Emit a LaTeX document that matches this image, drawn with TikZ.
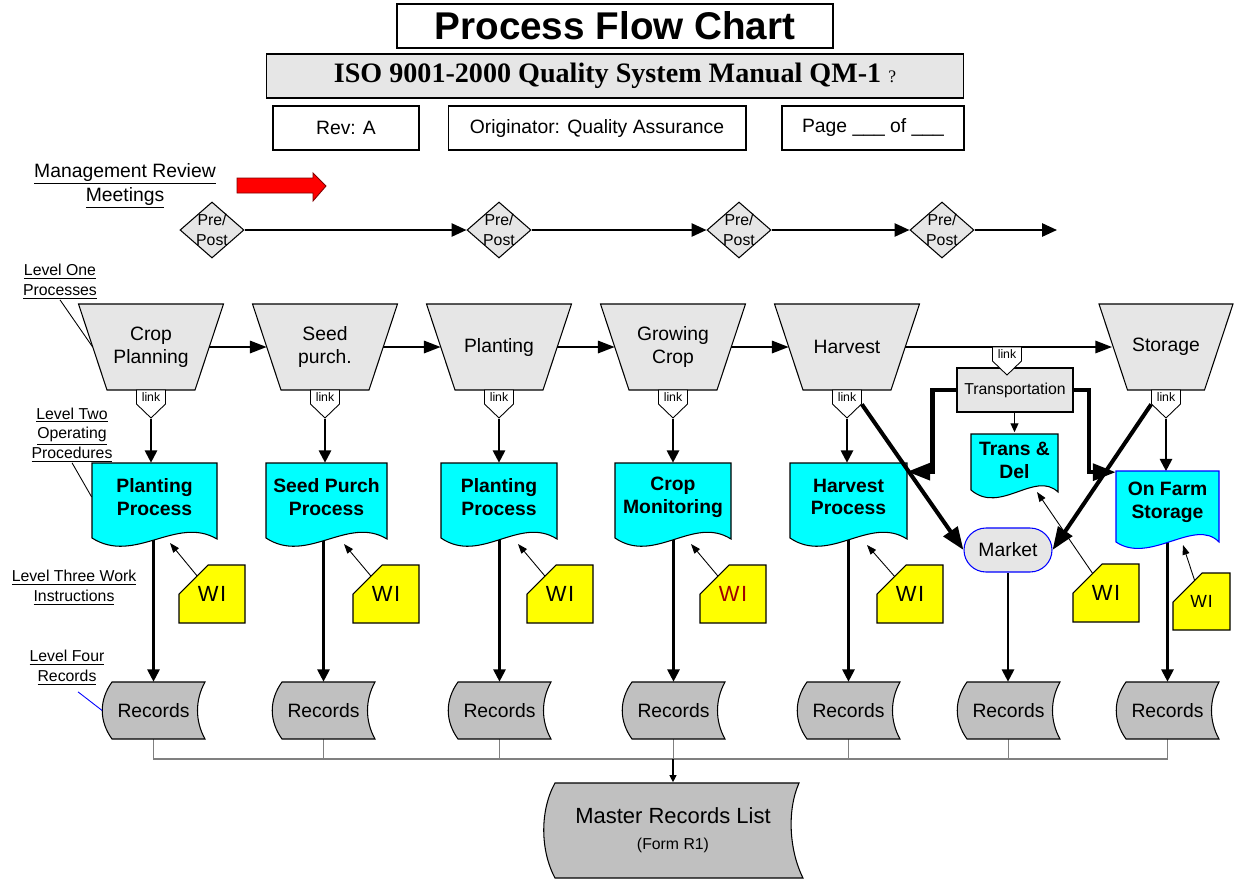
\documentclass[tikz,border=0pt]{standalone}
\usepackage{fontspec}
\setmainfont{Liberation Sans}
\newfontfamily\isofont{Liberation Serif}
\usetikzlibrary{arrows.meta,shapes.geometric,calc}
\pgfdeclarelayer{background}
\pgfsetlayers{background,main}
\definecolor{boxgray}{HTML}{E6E6E6}
\definecolor{recgray}{HTML}{C0C0C0}
\definecolor{wired}{HTML}{A00000}
\definecolor{doccyan}{RGB}{0,255,255}
\definecolor{wiyellow}{RGB}{255,255,0}
\definecolor{mrred}{RGB}{255,0,0}
\begin{document}
\begin{tikzpicture}[x=0.02cm, y=-0.02cm,
        every node/.style={inner sep=0pt},
        txt/.style={font=\fontsize{11}{13}\selectfont, align=center},
        small/.style={font=\fontsize{9}{11.3}\selectfont, align=center},
        doctxt/.style={font=\fontsize{11}{13}\selectfont\bfseries, align=center},
        headbox/.style={draw, line width=0.6pt, minimum height=0.88cm, font=\fontsize{11}{13}\selectfont},
        flow/.style={line width=1.2pt, -{Triangle[length=7pt,width=7pt]}},
        stepflow/.style={line width=1.2pt, -{Triangle[length=9.5pt,width=7pt]}},
        mrflow/.style={line width=1.2pt, -{Triangle[length=8.5pt,width=7.5pt]}},
        bigflow/.style={line width=2.3pt, -{Triangle[length=13pt,width=9.5pt]}},
        wiflow/.style={line width=0.5pt, -{Triangle[length=5.5pt,width=4pt]}},
        linkbox/.style={font=\fontsize{7}{8}\selectfont, minimum width=0.58cm, text height=6.6pt, text depth=9.3pt, anchor=north}]
    \useasboundingbox (0,0) rectangle (1235,880);

    % heading
    \node[draw, line width=0.8pt, minimum width=8.72cm, minimum height=0.88cm, font=\fontsize{22}{26}\selectfont\bfseries] (title) at (615,26) {Process Flow Chart};
    \node[draw, line width=0.6pt, fill=boxgray, minimum width=13.96cm, minimum height=0.88cm] (manual) at (615,76)
        {\isofont\fontsize{16}{19}\selectfont\bfseries ISO 9001-2000 Quality System Manual QM-1 {\mdseries\fontsize{10}{12}\selectfont ?}};
    \node[headbox, minimum width=2.92cm] (revbox) at (346,128) {Rev: A};
    \node[headbox, minimum width=5.96cm] (origbox) at (597,128) {Originator: Quality Assurance};
    \node[headbox, minimum width=3.64cm] (pagebox) at (873,128) {Page \_\_\_ of \_\_\_};

    % level labels
    \node[txt, font=\fontsize{11}{13.6}\selectfont] (mgmt) at (125,186) {\underline{Management Review}\\\underline{Meetings}};
    \node[small] (lvl1) at (60,282) {\underline{Level One}\\\underline{Processes}};
    \node[small] (lvl2) at (72,435) {\underline{Level Two}\\\underline{Operating}\\\underline{Procedures}};
    \node[small] (lvl3) at (74,588) {\underline{Level Three Work}\\\underline{Instructions}};
    \node[small] (lvl4) at (67,668) {\underline{Level Four}\\\underline{Records}};

    \filldraw[fill=mrred, draw=red!50!black, line width=0.5pt] (237,178) -- (313,178) -- (313,173) -- (326,186) -- (313,201) -- (313,193) -- (237,193) -- cycle;

    % management review
    \foreach \x [count=\i] in {212,499,739,942}
        \node[diamond, draw, line width=0.6pt, fill=boxgray, minimum width=1.28cm, minimum height=1.12cm, inner sep=-5pt, small] (mr\i) at (\x,230) {Pre/\\Post};
    \coordinate (mrend) at (1057,230);
    \draw[mrflow] (mr1) -- (mr2);
    \draw[mrflow] (mr2) -- (mr3);
    \draw[mrflow] (mr3) -- (mr4);
    \draw[mrflow] (mr4) -- (mrend);

    % level one processes
    \foreach \x/\w/\n/\t in {151/72.5/plan/{Crop\\Planning}, 325/72.5/seed/{Seed\\purch.}, 499/72.5/plant/Planting, 673/72.5/grow/{Growing\\Crop}, 847/72.5/harv/Harvest, 1166/67/stor/Storage} {
        \filldraw[fill=boxgray, line width=0.6pt] (\x-\w,304) -- (\x+\w,304) -- (\x+\w-28.5,390) -- (\x-\w+28.5,390) -- cycle;
        \node[txt, minimum width=\w*0.032cm, minimum height=1.72cm] (\n) at (\x,347) {\t};
        \filldraw[fill=white, line width=0.5pt] (\x-14.5,390) -- (\x+14.5,390) -- (\x+14.5,404) -- (\x,418) -- (\x-14.5,404) -- cycle;
        \node[linkbox] (lk\n) at (\x,390) {link};
    }
    \draw[stepflow] (plan) -- (seed);
    \draw[stepflow] (seed) -- (plant);
    \draw[stepflow] (plant) -- (grow);
    \draw[stepflow] (grow) -- (harv);
    \draw[stepflow] (harv) -- (stor);

    % level two procedures
    \foreach \x/\h/\n/\t in {154.5/62.5/ppro/{Planting\\Process}, 326.5/60.5/spro/{Seed Purch\\Process}, 499/58/ppro2/{Planting\\Process}, 673/58/cmon/{Crop\\Monitoring}, 848.5/58.5/hpro/{Harvest\\Process}} {
        \filldraw[fill=doccyan, line width=0.6pt] (\x-\h,463) -- (\x+\h,463) -- (\x+\h,539) .. controls (\x+0.35*\h,515) and (\x-0.32*\h,565) .. (\x-\h,538) -- cycle;
        \node[doctxt, minimum width=\h*0.04cm, minimum height=1.36cm] (\n) at (\x,497) {\t};
    }
    \filldraw[fill=doccyan, draw=blue, line width=0.6pt] (1116,471) -- (1219,471) -- (1219,542) .. controls (1195,517) and (1150,565) .. (1116,542) -- cycle;
    \node[doctxt, minimum width=2.06cm, minimum height=1.22cm] (ofs) at (1167.5,502) {On Farm\\Storage};

    % transportation
    \node[draw, line width=0.6pt, fill=boxgray, minimum width=2.32cm, minimum height=0.88cm, small] (trans) at (1015,390) {Transportation};
    \filldraw[fill=white, line width=0.5pt] (992.5,347) -- (1021.5,347) -- (1021.5,361) -- (1007,375) -- (992.5,361) -- cycle;
    \node[linkbox] (lktrans) at (1007,347) {link};
    \filldraw[fill=doccyan, line width=0.6pt] (971,434) -- (1058,434) -- (1058,492) .. controls (1035,470) and (1000,515) .. (971,490) -- cycle;
    \node[doctxt, minimum width=1.74cm, minimum height=1.1cm] (tdel) at (1014.5,460) {Trans \&\\Del};
    \draw[line width=0.6pt, -{Triangle[length=5pt,width=4.5pt]}] (trans.south -| tdel.north) -- (tdel.north);
    \node[txt, draw=blue, line width=0.6pt, fill=boxgray, minimum width=1.76cm, minimum height=0.88cm, rounded corners=0.44cm] (market) at (1008,550) {Market};

    % level three work instructions
    \foreach \x/\y/\n/\c in {179/565/wi1/black, 353/565/wi2/black, 527/565/wi3/black, 700/565/wi4/wired, 877/565/wi5/black, 1073/564/wi6/black} {
        \filldraw[fill=wiyellow, line width=0.6pt] (\x+29,\y) -- (\x+66,\y) -- (\x+66,\y+58) -- (\x,\y+58) -- (\x,\y+29) -- cycle;
        \node[font=\fontsize{12.5}{14}\selectfont, text=\c, minimum width=1.32cm, minimum height=1.16cm] (\n) at (\x+33,\y+29) {W\kern0.8pt I};
    }
    \filldraw[fill=wiyellow, line width=0.6pt] (1202,573) -- (1230,573) -- (1230,630) -- (1173,630) -- (1173,602) -- cycle;
    \node[font=\fontsize{10}{12}\selectfont, minimum width=1.14cm, minimum height=1.14cm] (wi7) at (1201.5,601.5) {W\kern0.6pt I};
    \coordinate (tipwi1) at (170,543);
    \coordinate (tipwi2) at (344,544);
    \coordinate (tipwi3) at (518,544);
    \coordinate (tipwi4) at (691,544);
    \coordinate (tipwi5) at (867,545);
    \coordinate (tipwi6) at (1037,492);
    \coordinate (tipwi7) at (1183,545);

    % level four records
    \foreach \x/\n in {153/rec1, 323/rec2, 499/rec3, 673/rec4, 848/rec5, 1008/rec6, 1167/rec7} {
        \filldraw[fill=recgray, line width=0.6pt] (\x-41,682) -- (\x+52,682) .. controls (\x+42,700) and (\x+42,721) .. (\x+52,739) -- (\x-41,739) .. controls (\x-54,721) and (\x-54,700) .. (\x-41,682) -- cycle;
        \node[txt, minimum width=2.04cm, minimum height=1.14cm] (\n) at (\x+0.5,710.5) {Records};
    }
    \filldraw[fill=recgray, line width=0.6pt] (555,783) -- (799,783) .. controls (787,810) and (789,850) .. (803,878) -- (555,878) .. controls (540,850) and (540,810) .. (555,783) -- cycle;
    \node[font=\fontsize{12.5}{14}\selectfont, align=center, minimum width=5cm, minimum height=1.9cm] (mrl) at (673,830)
        {Master Records List\\[1pt]{\fontsize{9}{11}\selectfont (Form R1)}};
    \coordinate (bus) at (673,759);

    % connectors
    \begin{pgfonlayer}{background}
        \foreach \n/\d/\r in {plan/ppro/rec1, seed/spro/rec2, plant/ppro2/rec3, grow/cmon/rec4, harv/hpro/rec5} {
            \draw[flow] (lk\n.south) -- (lk\n.south |- \d.north);
            \draw[flow] (\r.north |- \d.center) -- (\r.north);
        }
        \draw[flow] (lkstor.south) -- (lkstor.south |- ofs.north);
        \draw[flow] (rec7.north |- ofs.center) -- (rec7.north);
        \draw[flow] (market.south) -- (market.south |- rec6.north);
        \foreach \w in {wi1,wi2,wi3,wi4,wi5,wi6,wi7}
            \draw[wiflow] (\w.center) -- (tip\w);
        \foreach \r in {rec1,rec2,rec3,rec4,rec5,rec6,rec7}
            \draw[gray, line width=0.6pt] (\r.south) |- (bus);
        \draw[line width=0.6pt, -{Triangle[length=4pt,width=4pt]}] (bus) -- (mrl.north);
    \end{pgfonlayer}
    \draw[bigflow] (trans.west) -- ++(-24,0) |- ($(hpro.north east)+(0,9)$);
    \draw[bigflow] (trans.east) -- ++(15,0) |- ($(ofs.north west)+(0,1)$);
    \draw[bigflow] (lkharv.east) -- (market.west);
    \draw[bigflow] (lkstor.west) -- (market.east);

    % pointers
    \draw[line width=0.5pt] (lvl1.south) -- (plan.west);
    \draw[line width=0.5pt] (lvl2.south) -- (ppro.west);
    \draw[blue, line width=0.5pt] ($(lvl4.south)+(11,6)$) -- (rec1.west);
\end{tikzpicture}
\end{document}
